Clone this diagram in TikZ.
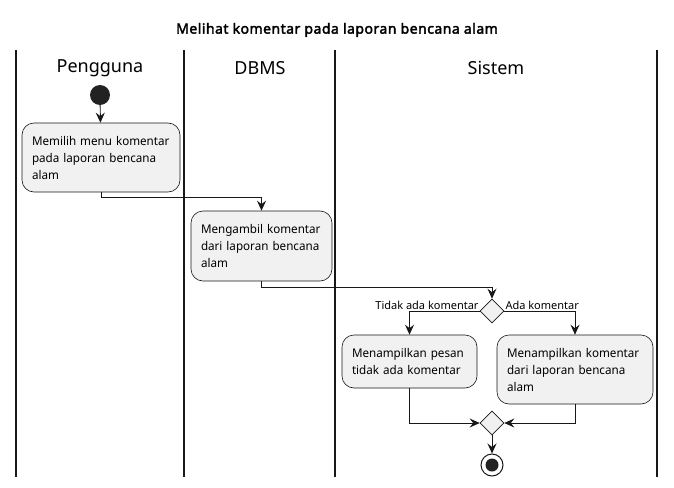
\documentclass[tikz,border=0pt]{standalone}
\usepackage{fontspec}
\setmainfont{Noto Sans}
\newfontfamily\boxfont{Noto Sans}[FakeStretch=0.97]
\newfontfamily\titlefont{Noto Sans}[FakeBold=2.5,LetterSpace=3.5]
\usetikzlibrary{arrows.meta,shapes.geometric}
\definecolor{boxfill}{HTML}{F1F1F1}
\definecolor{ink}{HTML}{181818}
\definecolor{dot}{HTML}{222222}
\begin{document}
\begin{tikzpicture}[x=1pt,y=-1pt,
  lane/.style={draw=ink,line width=1.5pt},
  lanetitle/.style={font=\fontsize{18}{20}\selectfont,text=black},
  actbox/.style={draw=ink,fill=boxfill,rounded corners=12pt,line width=0.6pt,
    align=left,inner xsep=10pt,inner ysep=0pt,font=\boxfont\fontsize{12}{17}\selectfont},
  decis/.style={diamond,aspect=1,draw=ink,fill=boxfill,line width=0.6pt,inner sep=0pt,minimum size=24pt},
  arr/.style={draw=ink,line width=0.9pt,-{Stealth[length=10pt,width=9pt,inset=3.5pt]}},
  lbl/.style={font=\fontsize{11}{13}\selectfont,inner sep=0pt},
  startdot/.style={circle,fill=dot,inner sep=0pt,minimum size=20pt},
  endring/.style={circle,draw=ink,line width=1pt,fill=white,inner sep=0pt,minimum size=22pt}]
\useasboundingbox (0,0) rectangle (674,487);
\fill[white] (0,0) rectangle (674,487);
\node[font=\titlefont\fontsize{14}{16}\selectfont] (title) at (337,30) {Melihat komentar pada laporan bencana alam};
% lanes
\coordinate (la) at (16,50); \coordinate (lab) at (16,477);
\coordinate (lb) at (184,50); \coordinate (lbb) at (184,477);
\coordinate (lc) at (335,50); \coordinate (lcb) at (335,477);
\coordinate (ld) at (657,50); \coordinate (ldb) at (657,477);
\draw[lane] (la) -- (lab);
\draw[lane] (lb) -- (lbb);
\draw[lane] (lc) -- (lcb);
\draw[lane] (ld) -- (ldb);
\node[lanetitle] (t1) at (100,68) {Pengguna};
\node[lanetitle] (t2) at (260,68) {DBMS};
\node[lanetitle] (t3) at (496,68) {Sistem};
% nodes
\node[startdot] (start) at (100,95) {};
\node[actbox,text width=138pt,minimum height=69pt] (box1) at (101,157.5) {\mbox{Memilih menu komentar}\\\mbox{pada laporan bencana}\\alam};
\node[actbox,text width=121pt,minimum height=70pt] (box2) at (261.5,246) {\mbox{Mengambil komentar}\\\mbox{dari laporan bencana}\\alam};
\node[decis] (d1) at (492,311) {};
\node[actbox,text width=115pt,minimum height=53pt] (box3) at (409.5,361.5) {\mbox{Menampilkan pesan}\\\mbox{tidak ada komentar}};
\node[actbox,text width=136pt,minimum height=69pt] (box4) at (575,369.5) {\mbox{Menampilkan komentar}\\\mbox{dari laporan bencana}\\alam};
\node[decis] (d2) at (492,423) {};
\node[endring] (endc) at (492,465) {};
\node[circle,fill=dot,inner sep=0pt,minimum size=13pt] (endin) at (endc) {};
\node[lbl,anchor=base east,xshift=-1pt,yshift=2pt] (l1) at (d1.west) {Tidak ada komentar};
\node[lbl,anchor=base west,xshift=1pt,yshift=2pt] (l2) at (d1.east) {Ada komentar};
% connectors
\draw[arr] (start) -- (box1);
\draw[arr] (box1.south) -- ++(0,5) -| (box2.north);
\draw[arr] (box2.south) -- ++(0,6) -| (d1.north);
\draw[arr] (d1.west) -| (box3.north);
\draw[arr] (d1.east) -| (box4.north);
\draw[arr] (box3.south) |- (d2.west);
\draw[arr] (box4.south) |- (d2.east);
\draw[arr] (d2.south) -- (endc);
\end{tikzpicture}
\end{document}
